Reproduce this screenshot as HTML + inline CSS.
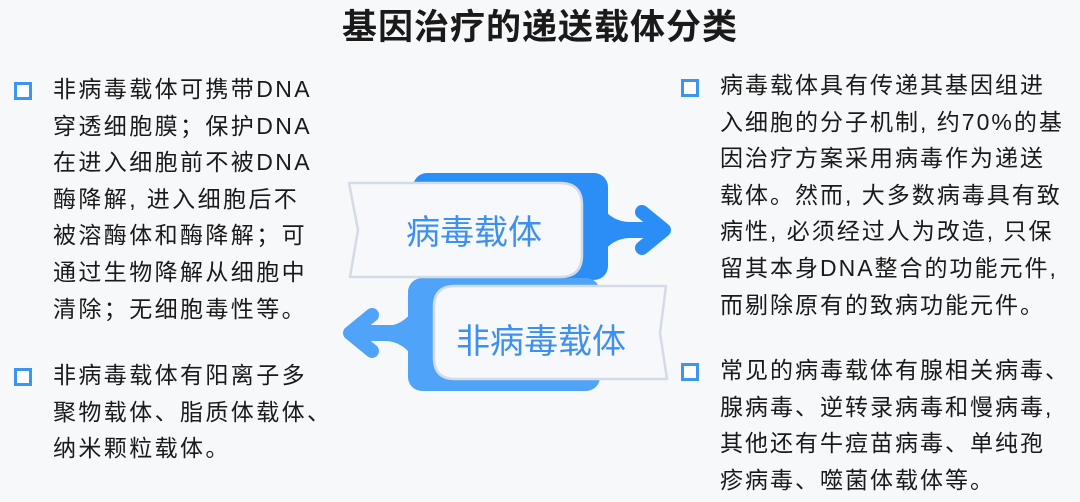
<!DOCTYPE html>
<html><head><meta charset="utf-8"><style>
body{margin:0;width:1080px;height:502px;background:#f7f8fa;position:relative;overflow:hidden;font-family:"Liberation Sans","Noto Sans CJK SC",sans-serif;color:#1a1a1a}
.t{position:absolute;top:6px;left:0;width:1080px;text-align:center;font-size:35px;letter-spacing:1px;font-weight:bold;line-height:44px}
.b{position:absolute;font-size:23px;letter-spacing:2.4px;line-height:36.6px;white-space:nowrap}
.r{letter-spacing:2px}
.sq{position:absolute;width:12px;height:12px;border:3px solid #3d95f2;background:#fff}
</style></head><body>
<div class="t">基因治疗的递送载体分类</div>
<div class="sq" style="left:14px;top:82px"></div>
<div class="b" style="left:53px;top:71px">非病毒载体可携带DNA<br>穿透细胞膜；保护DNA<br>在进入细胞前不被DNA<br>酶降解, 进入细胞后不<br>被溶酶体和酶降解；可<br>通过生物降解从细胞中<br>清除；无细胞毒性等。</div>
<div class="sq" style="left:14px;top:368px"></div>
<div class="b" style="left:53px;top:357px">非病毒载体有阳离子多<br>聚物载体、脂质体载体、<br>纳米颗粒载体。</div>
<div class="sq" style="left:681px;top:79px"></div>
<div class="b r" style="left:720px;top:67px">病毒载体具有传递其基因组进<br>入细胞的分子机制, 约70%的基<br>因治疗方案采用病毒作为递送<br>载体。然而, 大多数病毒具有致<br>病性, 必须经过人为改造, 只保<br>留其本身DNA整合的功能元件,<br>而剔除原有的致病功能元件。</div>
<div class="sq" style="left:681px;top:363px"></div>
<div class="b r" style="left:720px;top:352px">常见的病毒载体有腺相关病毒、<br>腺病毒、逆转录病毒和慢病毒,<br>其他还有牛痘苗病毒、单纯孢<br>疹病毒、噬菌体载体等。</div>
<svg style="position:absolute;left:0;top:0" width="1080" height="502">
<rect x="413" y="173" width="195" height="107" rx="14" fill="#2b8ef6"/>
<path d="M600 205 Q612 222 630 222 V238 Q612 238 600 256 Z" fill="#2b8ef6"/>
<line x1="605" y1="230" x2="662" y2="230" stroke="#2b8ef6" stroke-width="16"/>
<polyline points="642,212 664,230 642,248" fill="none" stroke="#2b8ef6" stroke-width="14" stroke-linecap="round" stroke-linejoin="round"/>
<rect x="408" y="278" width="192" height="113" rx="14" fill="#4fa3f8"/>
<path d="M415 308 Q403 326 385 326 V341 Q403 341 415 360 Z" fill="#4fa3f8"/>
<line x1="410" y1="333" x2="352" y2="333" stroke="#4fa3f8" stroke-width="16"/>
<polyline points="372,315 350,333 372,351" fill="none" stroke="#4fa3f8" stroke-width="14" stroke-linecap="round" stroke-linejoin="round"/>
<path d="M349 183 H560 Q582 183 582 205 V255 Q582 277 560 277 H350 L358 230 Z" fill="#f7f8fb" stroke="#d3dbe6" stroke-width="2.5" stroke-linejoin="round"/>
<text x="474" y="244" font-size="34" fill="#3d8ff0" text-anchor="middle" font-family="Liberation Sans,Noto Sans CJK SC,sans-serif">病毒载体</text>
<path d="M455 286 H666 L660 333 L667 379 H455 Q434 379 434 358 V307 Q434 286 455 286 Z" fill="#f7f8fb" stroke="#d3dbe6" stroke-width="2.5" stroke-linejoin="round"/>
<text x="541" y="353" font-size="34" fill="#3d8ff0" text-anchor="middle" font-family="Liberation Sans,Noto Sans CJK SC,sans-serif">非病毒载体</text>
</svg>
</body></html>
